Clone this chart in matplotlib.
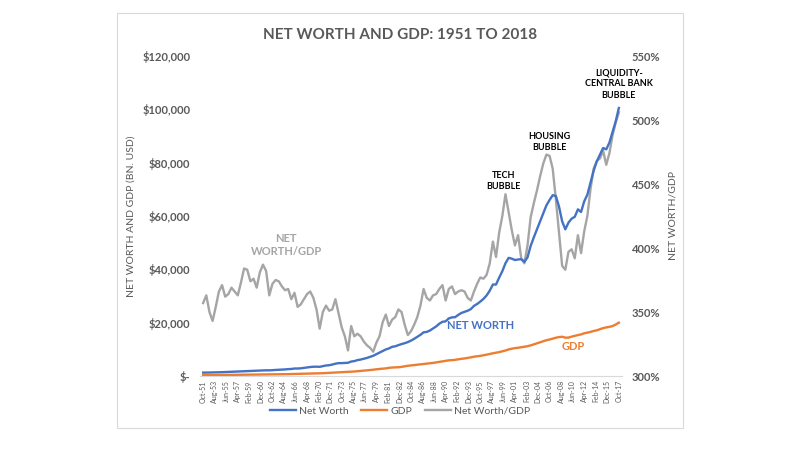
import numpy as np
import pandas as pd
import matplotlib
matplotlib.use('Agg')
import matplotlib.pyplot as plt
from matplotlib.patches import Rectangle
from matplotlib.ticker import FuncFormatter

# ---------------- data (half-yearly, Oct-51 .. Oct-17) ----------------
ratio = [357, 363, 350, 343, 354, 366, 371, 362, 364, 369,
         366, 363, 373, 384, 383, 374, 376, 369, 381, 387,
         382, 363, 372, 375, 374, 370, 367, 368, 360, 365,
         354, 356, 360, 364, 366, 361, 352, 337, 350, 355,
         351, 352, 360, 349, 338, 331, 320, 339, 331, 333,
         331, 327, 324, 322, 319, 326, 331, 342, 348, 339,
         344, 346, 352, 350, 340, 332, 335, 340, 346, 355,
         368, 361, 359, 363, 364, 368, 371, 359, 368, 370,
         364, 366, 367, 366, 361, 359, 366, 372, 377, 376,
         379, 388, 405, 393, 412, 425, 442, 428, 414, 402,
         410, 392, 388, 402, 424, 435, 445, 456, 466, 473,
         472, 462, 438, 412, 386, 383, 397, 399, 392, 410,
         396, 413, 425, 446, 462, 468, 470, 476, 465, 474,
         488, 498, 506]

net_worth = [1270, 1310, 1310, 1330, 1350, 1400, 1460, 1480, 1530, 1590,
             1620, 1650, 1710, 1740, 1830, 1870, 1920, 1960, 2000, 2070,
             2140, 2110, 2210, 2270, 2360, 2410, 2460, 2580, 2630, 2810,
             2810, 2880, 3020, 3200, 3370, 3470, 3500, 3440, 3680, 3940,
             4040, 4290, 4610, 4820, 4830, 4900, 4960, 5420, 5590, 5960,
             6160, 6470, 6770, 7180, 7590, 8180, 8740, 9400, 9950, 10340,
             10940, 11140, 11580, 11970, 12310, 12720, 13270, 13940, 14670, 15440,
             16380, 16530, 17050, 17820, 18600, 19610, 20330, 20500, 21600, 21980,
             22060, 22910, 23640, 24080, 24480, 25090, 26300, 27000, 27900, 28900,
             30200, 32000, 34300, 34300, 36900, 39300, 42300, 44300, 44000, 43500,
             43700, 43800, 42800, 44500, 48800, 52000, 55000, 58000, 61000, 64000,
             66000, 67800, 67500, 63500, 58000, 55000, 57500, 59000, 59700, 62500,
             61500, 65500, 68000, 72500, 77000, 80500, 83000, 85500, 85000, 87500,
             91500, 95500, 100500]

gdp = [357, 362, 375, 387, 380, 382, 393, 409, 421, 430,
       442, 455, 458, 454, 477, 500, 510, 530, 525, 535,
       560, 580, 595, 605, 630, 650, 670, 700, 730, 770,
       795, 810, 840, 880, 920, 960, 995, 1020, 1050, 1110,
       1150, 1220, 1280, 1380, 1430, 1480, 1550, 1600, 1690, 1790,
       1860, 1980, 2090, 2230, 2380, 2510, 2640, 2750, 2860, 3050,
       3180, 3220, 3290, 3420, 3620, 3830, 3960, 4100, 4240, 4350,
       4450, 4580, 4750, 4910, 5110, 5330, 5480, 5710, 5870, 5940,
       6060, 6260, 6440, 6580, 6780, 6990, 7240, 7380, 7540, 7760,
       8000, 8270, 8520, 8720, 8960, 9250, 9560, 9960, 10200, 10470,
       10580, 10780, 10950, 11170, 11480, 11860, 12210, 12600, 12960, 13420,
       13680, 14000, 14350, 14590, 14720, 14380, 14400, 14760, 15060, 15350,
       15590, 16010, 16270, 16530, 16880, 17140, 17570, 17960, 18220, 18430,
       18730, 19300, 20000]

tick_labels = ['Oct-51', 'Aug-53', 'Jun-55', 'Apr-57', 'Feb-59', 'Dec-60', 'Oct-62',
               'Aug-64', 'Jun-66', 'Apr-68', 'Feb-70', 'Dec-71', 'Oct-73', 'Aug-75',
               'Jun-77', 'Apr-79', 'Feb-81', 'Dec-82', 'Oct-84', 'Aug-86', 'Jun-88',
               'Apr-90', 'Feb-92', 'Dec-93', 'Oct-95', 'Aug-97', 'Jun-99', 'Apr-01',
               'Feb-03', 'Dec-04', 'Oct-06', 'Aug-08', 'Jun-10', 'Apr-12', 'Feb-14',
               'Dec-15', 'Oct-17']

dates = pd.date_range('1951-10-01', periods=len(ratio), freq='6MS')
# month index since Oct-51 (category axis position)
x = (dates.year - 1951) * 12 + dates.month - 10
tick_pos = np.arange(len(tick_labels)) * 22

# ---------------- style ----------------
plt.rcParams['font.family'] = ['Lato', 'DejaVu Sans']
GREY_TXT = '#595959'
C_NW, C_GDP, C_RATIO = '#4472C4', '#ED7D31', '#A5A5A5'

fig = plt.figure(figsize=(8, 4.5), dpi=100)
fig.patch.set_facecolor('white')
fig.patches.append(Rectangle((117 / 800, 1 - 428 / 450), 566 / 800, 415 / 450,
                             transform=fig.transFigure, fill=False,
                             edgecolor='#d9d9d9', lw=0.8))

ax = fig.add_axes([200 / 800, 1 - 376 / 450, 422 / 800, 320 / 450])
ax2 = ax.twinx()

l1, = ax.plot(x, net_worth, color=C_NW, lw=1.7, zorder=3)
l2, = ax.plot(x, gdp, color=C_GDP, lw=1.7, zorder=3)
l3, = ax2.plot(x, np.array(ratio) / 100, color=C_RATIO, lw=1.7)
ax.set_zorder(ax2.get_zorder() + 1)
ax.patch.set_visible(False)

ax.set_xlim(-6, 798)
ax.set_ylim(0, 120000)
ax2.set_ylim(3.0, 5.5)

ax.set_yticks(np.arange(0, 120001, 20000))
ax.yaxis.set_major_formatter(FuncFormatter(lambda v, p: '$-' if v == 0 else f'${v:,.0f}'))
ax2.set_yticks(np.arange(3.0, 5.51, 0.5))
ax2.yaxis.set_major_formatter(FuncFormatter(lambda v, p: f'{v * 100:.0f}%'))

ax.set_xticks(tick_pos)
ax.set_xticklabels(tick_labels, rotation=90, fontsize=5, color=GREY_TXT)
ax.tick_params(axis='x', length=0, pad=3)
ax.tick_params(axis='y', length=0, labelsize=8, labelcolor=GREY_TXT, pad=7)
ax2.tick_params(axis='y', length=0, labelsize=8, labelcolor=GREY_TXT, pad=7)
for lab in ax.get_yticklabels() + ax2.get_yticklabels():
    lab.set_fontweight('bold')

for a in (ax, ax2):
    for s in a.spines.values():
        s.set_visible(False)
ax.spines['bottom'].set_visible(True)
ax.spines['bottom'].set_color('#d9d9d9')
ax.spines['bottom'].set_linewidth(0.8)

ax.set_ylabel('NET WORTH AND GDP (BN. USD)', fontsize=7.5, color=GREY_TXT, labelpad=5)
ax2.set_ylabel('NET WORTH/GDP', fontsize=7.5, color=GREY_TXT, labelpad=6)

fig.text(0.5, 1 - 35 / 450, 'NET WORTH AND GDP: 1951 TO 2018', ha='center', va='center',
         fontsize=11, fontweight='bold', color=GREY_TXT)

# in-chart annotations
ax.text(529, 19100, 'NET WORTH', color=C_NW, fontsize=8, fontweight='bold',
        ha='center', va='center')
ax.text(706, 10900, 'GDP', color=C_GDP, fontsize=8, fontweight='bold',
        ha='center', va='center')
ax.text(158, 49100, 'NET\nWORTH/GDP', color=C_RATIO, fontsize=8, fontweight='bold',
        ha='center', va='center', linespacing=1.3)
for xt, yt, s in [(573, 73100, 'TECH\nBUBBLE'),
                  (659, 87750, 'HOUSING\nBUBBLE'),
                  (792, 109500, 'LIQUIDITY-\nCENTRAL BANK\nBUBBLE')]:
    ax.text(xt, yt, s, color='black', fontsize=6.5, fontweight='bold',
            ha='center', va='center', linespacing=1.3)

fig.legend([l1, l2, l3], ['Net Worth', 'GDP', 'Net Worth/GDP'],
           loc='center', bbox_to_anchor=(400 / 800, 1 - 411 / 450), ncol=3,
           frameon=False, fontsize=7.5, handlelength=2.5, columnspacing=1.2,
           handletextpad=0.3, labelcolor=GREY_TXT)

fig.savefig('out.png', dpi=100, facecolor='white')
